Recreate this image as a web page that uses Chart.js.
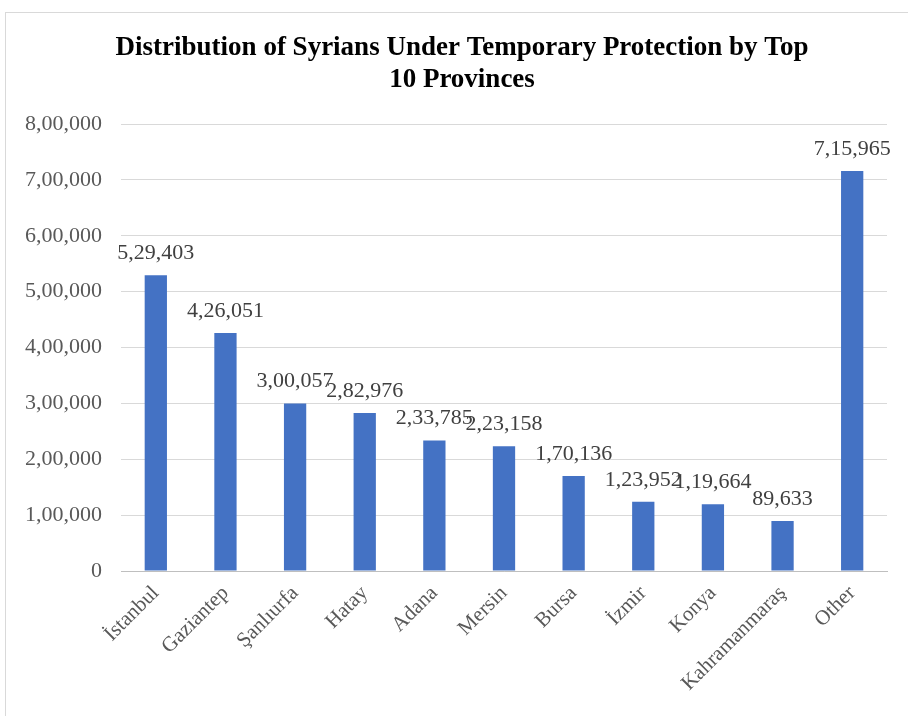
<!DOCTYPE html>
<html>
<head>
<meta charset="utf-8">
<script src="https://cdn.jsdelivr.net/npm/chart.js@4"></script>
<style>
  html, body { margin: 0; padding: 0; background: #fff; overflow: hidden; }
  #frame {
    position: absolute; left: 5px; top: 12px; width: 920px; height: 710px;
    border-left: 1px solid #d9d9d9; border-top: 1px solid #d9d9d9;
  }
  #chart-1 { display: block; }
</style>
</head>
<body>
<div id="frame"><canvas id="chart-1" width="912" height="703"></canvas></div>
<script>
const provinces = [
  'İstanbul', 'Gaziantep', 'Şanlıurfa', 'Hatay', 'Adana', 'Mersin',
  'Bursa', 'İzmir', 'Konya', 'Kahramanmaraş', 'Other'
];
const syrians = [529403, 426051, 300057, 282976, 233785, 223158, 170136, 123952, 119664, 89633, 715965];

// lakh style grouping: 5,29,403
function fmtIN(n) {
  const s = String(Math.round(n));
  if (s.length <= 3) return s;
  let head = s.slice(0, -3), tail = s.slice(-3);
  head = head.replace(/\B(?=(\d{2})+(?!\d))/g, ',');
  return head + ',' + tail;
}

const serif = '"Liberation Serif", "Times New Roman", serif';

const valueLabels = {
  id: 'valueLabels',
  afterDatasetsDraw(chart) {
    const ctx = chart.ctx;
    const meta = chart.getDatasetMeta(0);
    ctx.save();
    ctx.font = '22px ' + serif;
    ctx.fillStyle = '#404040';
    ctx.textAlign = 'center';
    ctx.textBaseline = 'bottom';
    meta.data.forEach((bar, i) => {
      ctx.fillText(fmtIN(syrians[i]), bar.x, bar.y - 11);
    });
    ctx.restore();
  }
};

const chart1 = new Chart(document.getElementById('chart-1'), {
  type: 'bar',
  data: {
    labels: provinces,
    datasets: [{
      data: syrians,
      backgroundColor: '#4472C4',
      barPercentage: 0.64,
      categoryPercentage: 0.5
    }]
  },
  plugins: [valueLabels],
  options: {
    responsive: false,
    animation: false,
    layout: { padding: 0 },
    plugins: {
      legend: { display: false },
      tooltip: { enabled: false },
      title: {
        display: true,
        text: ['Distribution of Syrians Under Temporary Protection by Top', '10 Provinces'],
        color: '#000',
        font: { family: serif, size: 27, weight: 'bold', lineHeight: 1.15 },
        padding: { top: 20, bottom: 29 }
      }
    },
    scales: {
      x: {
        grid: { display: false, drawTicks: false },
        border: { color: '#bfbfbf', width: 1 },
        ticks: {
          color: '#595959',
          font: { family: serif, size: 21 },
          maxRotation: 45, minRotation: 45,
          padding: 10
        },
        afterFit(scale) { scale.height = 145; }
      },
      y: {
        min: 0, max: 800000,
        grid: { color: '#d9d9d9', drawTicks: false },
        border: { display: false },
        ticks: {
          stepSize: 100000,
          color: '#595959',
          font: { family: serif, size: 22 },
          padding: 19,
          callback: v => fmtIN(v)
        },
        afterFit(scale) { scale.width = 115; }
      },
      // empty right-hand margin so the title stays centred on the full frame
      yRight: {
        position: 'right',
        grid: { display: false, drawTicks: false },
        border: { display: false },
        ticks: { display: false },
        afterFit(scale) { scale.width = 31; }
      }
    }
  }
});
</script>
</body>
</html>
